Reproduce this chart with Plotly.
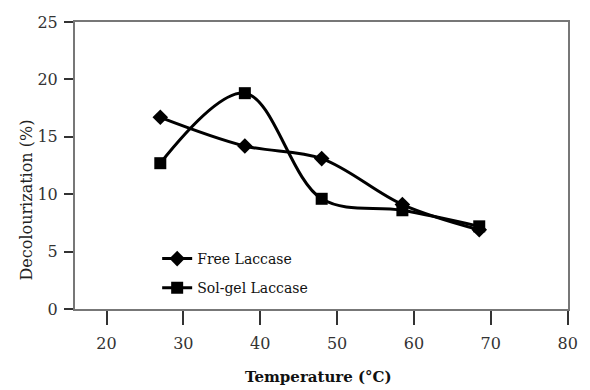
import plotly.graph_objects as go

temperature = [27, 38, 48, 58.5, 68.5]
free_laccase = [16.7, 14.2, 13.1, 9.1, 6.9]
solgel_laccase = [12.7, 18.8, 9.6, 8.6, 7.2]

x_ticks = [20, 30, 40, 50, 60, 70, 80]
y_ticks = [0, 5, 10, 15, 20, 25]

FONT = "DejaVu Serif"

fig = go.Figure()
fig.add_trace(go.Scatter(
    x=temperature, y=free_laccase, name="Free Laccase",
    mode="lines+markers", line=dict(color="black", width=3, shape="spline", smoothing=1),
    marker=dict(symbol="diamond", size=12, color="black"),
    legendgroup="a"))
fig.add_trace(go.Scatter(
    x=temperature, y=solgel_laccase, name="Sol-gel Laccase",
    mode="lines+markers", line=dict(color="black", width=3, shape="spline", smoothing=1),
    marker=dict(symbol="square", size=12, color="black"),
    legendgroup="b"))

W, H = 590, 390
L, R, T, B = 75, 17, 22, 81
pw, ph = W - L - R, H - T - B

fig.update_layout(
    width=W, height=H,
    margin=dict(l=L, r=R, t=T, b=B),
    paper_bgcolor="white", plot_bgcolor="white",
    font=dict(family=FONT, color="#222", size=15),
    showlegend=True,
    legend=dict(x=(158 - L) / pw, y=(309 - 243) / ph, xanchor="left", yanchor="top",
                bgcolor="rgba(0,0,0,0)", font=dict(family=FONT, size=14, color="#111"),
                tracegroupgap=8),
    xaxis=dict(range=[15.9, 80.05], tickvals=x_ticks, showgrid=False, zeroline=False,
               showline=True, linecolor="#777", linewidth=2, mirror=True,
               ticks="outside", ticklen=14, tickwidth=1.5, tickcolor="#333",
               ticklabelstandoff=5,
               tickfont=dict(family=FONT, size=16, color="#333")),
    yaxis=dict(range=[0, 25], tickvals=y_ticks, showgrid=False, zeroline=False,
               showline=True, linecolor="#777", linewidth=2, mirror=True,
               ticks="outside", ticklen=9, tickwidth=1.5, tickcolor="#333",
               ticklabelstandoff=3,
               tickfont=dict(family=FONT, size=16, color="#333")),
    annotations=[
        dict(text="Decolourization (%)", xref="paper", yref="paper",
             x=(25 - L) / pw, y=(309 - 200) / ph, textangle=-90, showarrow=False,
             xanchor="center", yanchor="middle",
             font=dict(family=FONT, size=16, color="#222")),
        dict(text="<b>Temperature (°C)</b>", xref="paper", yref="paper",
             x=(321 - L) / pw, y=-(377 - 309) / ph, showarrow=False,
             xanchor="center", yanchor="middle",
             font=dict(family=FONT, size=15, color="#111")),
    ],
)

fig.write_html("out.html")
